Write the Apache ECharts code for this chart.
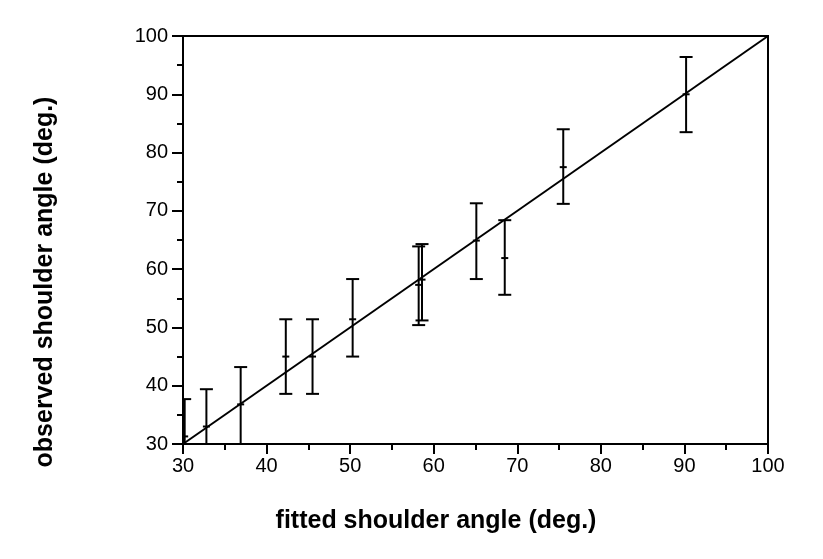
<!DOCTYPE html>
<html>
<head>
<meta charset="utf-8">
<script src="https://cdn.jsdelivr.net/npm/echarts@6/dist/echarts.min.js"></script>
<style>html,body{margin:0;padding:0;background:#fff}#c{width:823px;height:559px}</style>
</head>
<body>
<div id="c"></div>
<script>
var fitted   = [30.2, 32.8, 36.9, 42.3, 45.5, 50.3, 58.2, 58.6, 65.1, 68.5, 75.5, 90.2];
var observed = [31.3, 33.0, 36.8, 45.0, 45.0, 51.4, 57.3, 58.2, 64.9, 61.9, 77.5, 90.0];
var lower    = [24.9, 26.6, 29.9, 38.6, 38.6, 45.0, 50.4, 51.2, 58.3, 55.6, 71.2, 83.5];
var upper    = [37.7, 39.4, 43.2, 51.4, 51.4, 58.3, 63.9, 64.3, 71.3, 68.4, 84.0, 96.4];
var identityLine = [[30, 30], [100, 100]];
var axisTicks = [30, 40, 50, 60, 70, 80, 90, 100];
var xTitle = 'fitted shoulder angle (deg.)';
var yTitle = 'observed shoulder angle (deg.)';

var errData = fitted.map(function (x, i) { return [x, observed[i], lower[i], upper[i]]; });
var font = 'Arial, "Liberation Sans", sans-serif';
var chart = echarts.init(document.getElementById('c'));
chart.setOption({
  animation: false,
  backgroundColor: '#fff',
  grid: { left: 183, right: 55, top: 36, bottom: 115, show: true, borderColor: '#000', borderWidth: 2 },
  graphic: [
    { type: 'text', x: 436, y: 521,
      style: { text: xTitle, fontFamily: font, fontSize: 25, fontWeight: 'bold', fill: '#000', align: 'center', verticalAlign: 'middle' } },
    { type: 'text', x: 45, y: 282, rotation: Math.PI / 2,
      style: { text: yTitle, fontFamily: font, fontSize: 25, fontWeight: 'bold', fill: '#000', align: 'center', verticalAlign: 'middle' } }
  ],
  xAxis: {
    type: 'value', min: axisTicks[0], max: axisTicks[axisTicks.length - 1], interval: 10,
    axisLine: { lineStyle: { color: '#000', width: 2 } },
    axisTick: { show: true, inside: false, length: 10, lineStyle: { color: '#000', width: 2 } },
    minorTick: { show: true, splitNumber: 2, length: 6, lineStyle: { color: '#000', width: 2 } },
    splitLine: { show: false },
    axisLabel: { fontFamily: font, fontSize: 20, color: '#000', margin: 12 }
  },
  yAxis: {
    type: 'value', min: axisTicks[0], max: axisTicks[axisTicks.length - 1], interval: 10,
    axisLine: { lineStyle: { color: '#000', width: 2 } },
    axisTick: { show: true, inside: false, length: 11, lineStyle: { color: '#000', width: 2 } },
    minorTick: { show: true, splitNumber: 2, length: 6, lineStyle: { color: '#000', width: 2 } },
    splitLine: { show: false },
    axisLabel: { fontFamily: font, fontSize: 20, color: '#000', margin: 15 }
  },
  series: [
    {
      type: 'line', data: identityLine, symbol: 'none',
      lineStyle: { color: '#000', width: 2 }, z: 3
    },
    {
      type: 'custom', data: errData, clip: true, z: 4,
      renderItem: function (params, api) {
        var x = api.value(0);
        var pm = api.coord([x, api.value(1)]);
        var pl = api.coord([x, api.value(2)]);
        var pu = api.coord([x, api.value(3)]);
        var cw = 6.5, mw = 3.5;
        var st = { stroke: '#000', lineWidth: 2 };
        return {
          type: 'group',
          children: [
            { type: 'line', shape: { x1: pl[0], y1: pl[1], x2: pu[0], y2: pu[1] }, style: st },
            { type: 'line', shape: { x1: pu[0] - cw, y1: pu[1], x2: pu[0] + cw, y2: pu[1] }, style: st },
            { type: 'line', shape: { x1: pl[0] - cw, y1: pl[1], x2: pl[0] + cw, y2: pl[1] }, style: st },
            { type: 'line', shape: { x1: pm[0] - mw, y1: pm[1], x2: pm[0] + mw, y2: pm[1] }, style: st }
          ]
        };
      }
    }
  ]
});
</script>
</body>
</html>
